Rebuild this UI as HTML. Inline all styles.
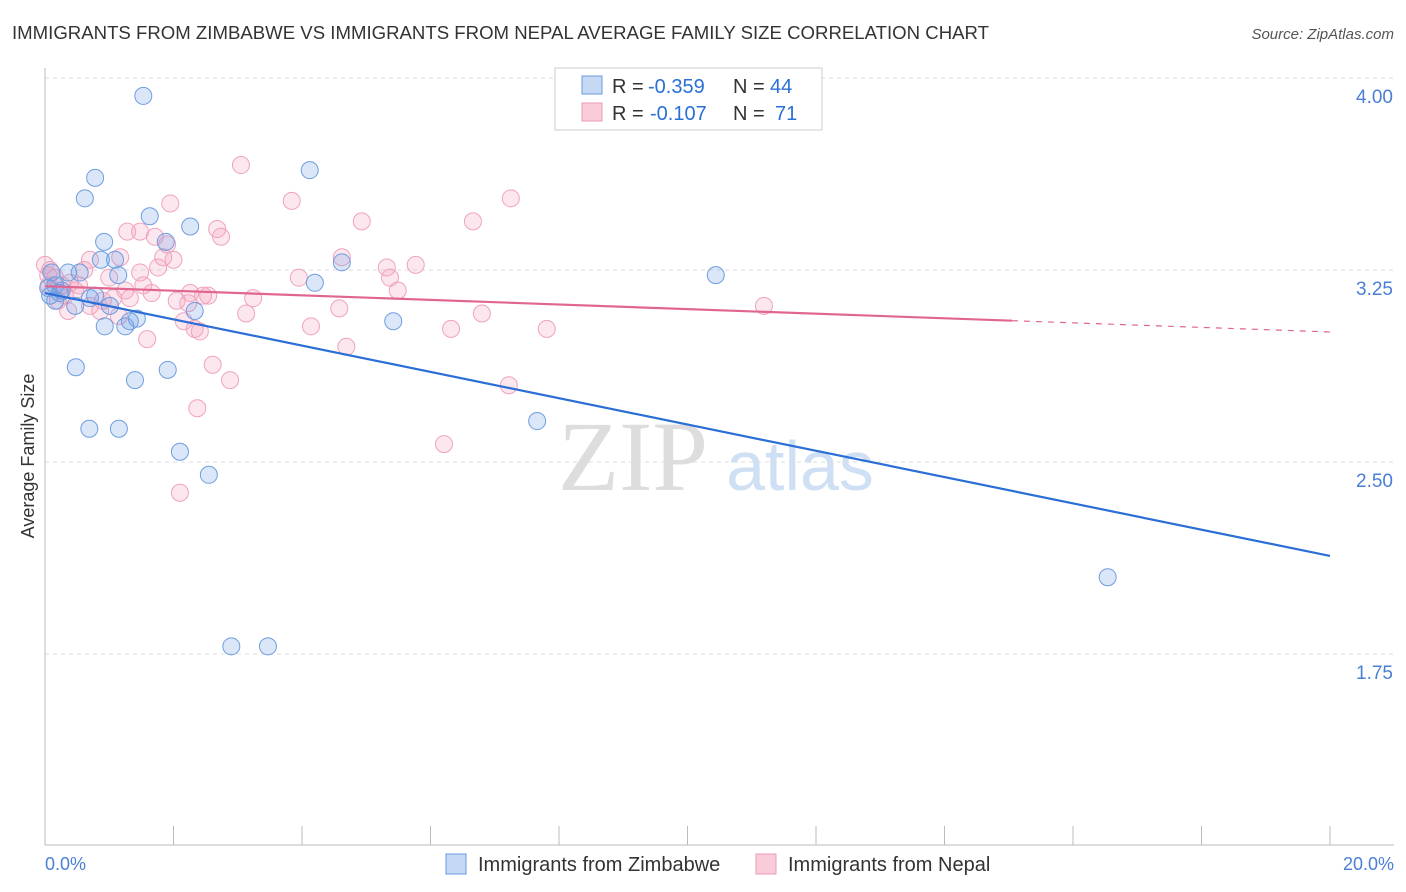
<!DOCTYPE html>
<html><head><meta charset="utf-8"><style>
body{margin:0;background:#fff;font-family:"Liberation Sans",sans-serif;}
svg{display:block}
</style></head><body>
<svg id="c" width="1406" height="892" xmlns="http://www.w3.org/2000/svg">
<text x="12" y="39" font-size="18" fill="#333" textLength="977" lengthAdjust="spacingAndGlyphs">IMMIGRANTS FROM ZIMBABWE VS IMMIGRANTS FROM NEPAL AVERAGE FAMILY SIZE CORRELATION CHART</text>
<text x="1394" y="39" font-size="15" fill="#555" text-anchor="end" font-style="italic">Source: ZipAtlas.com</text>
<text x="633" y="490" font-size="100" fill="#ddd" font-family="Liberation Serif,serif" text-anchor="middle">ZIP</text>
<text x="800" y="490" font-size="70" fill="#cfe0f5" text-anchor="middle">atlas</text>
<g id="grid"></g><g id="pts"></g><g id="lines"></g>
<text transform="translate(34,456) rotate(-90)" font-size="18" fill="#333" text-anchor="middle">Average Family Size</text>
<text x="45" y="870" font-size="18" fill="#4a7fd6">0.0%</text>
<text x="1394" y="870" font-size="18" fill="#4a7fd6" text-anchor="end">20.0%</text>
<g>
<rect x="555" y="68" width="267" height="62" fill="#fff" stroke="#ccc"/>
<rect x="582" y="76" width="20" height="18" fill="#c5d9f5" stroke="#6a9be0"/>
<rect x="582" y="103" width="20" height="18" fill="#f9ccd9" stroke="#ee9bb5"/>
<text x="612" y="93" font-size="20" fill="#333">R =</text>
<text x="648" y="93" font-size="20" fill="#2b6fd6">-0.359</text>
<text x="733" y="93" font-size="20" fill="#333">N =</text>
<text x="770" y="93" font-size="20" fill="#2b6fd6">44</text>
<text x="612" y="120" font-size="20" fill="#333">R =</text>
<text x="650" y="120" font-size="20" fill="#2b6fd6">-0.107</text>
<text x="733" y="120" font-size="20" fill="#333">N =</text>
<text x="775" y="120" font-size="20" fill="#2b6fd6">71</text>
</g>
<g>
<rect x="446" y="854" width="20" height="20" fill="#c5d9f5" stroke="#6a9be0"/>
<text x="478" y="871" font-size="20" fill="#333">Immigrants from Zimbabwe</text>
<rect x="756" y="854" width="20" height="20" fill="#f9ccd9" stroke="#ee9bb5"/>
<text x="788" y="871" font-size="20" fill="#333">Immigrants from Nepal</text>
</g>
</svg>
<script>
const yTicks=[4.00,3.25,2.50,1.75];
const yTickLabels=["4.00","3.25","2.50","1.75"];
const xTicks=[0,2,4,6,8,10,12,14,16,18,20];
const blueX=[1.53,0.78,0.62,4.12,1.63,2.26,0.92,1.88,0.87,1.09,4.62,10.44,1.14,0.54,0.36,4.2,0.16,0.26,0.08,0.16,0.47,0.78,1.01,2.33,1.43,0.93,1.25,1.32,5.42,0.48,1.4,1.91,0.69,1.15,7.66,2.1,2.55,16.54,2.9,3.47,0.05,0.7,0.23,0.1];
const blueY=[3.93,3.61,3.53,3.64,3.46,3.42,3.36,3.36,3.29,3.29,3.28,3.23,3.23,3.24,3.24,3.20,3.19,3.17,3.15,3.13,3.11,3.15,3.11,3.09,3.06,3.03,3.03,3.05,3.05,2.87,2.82,2.86,2.63,2.63,2.66,2.54,2.45,2.05,1.78,1.78,3.18,3.14,3.16,3.24];
const pinkX=[3.05,1.95,3.84,7.25,6.66,4.93,2.68,1.28,1.48,1.71,2.74,1.9,1.17,1.84,2.0,0.7,4.62,5.77,5.32,1.76,1.48,0.61,0.08,0.05,3.95,5.37,1.0,0.39,0.53,0.26,5.49,1.66,2.26,2.46,2.54,1.32,3.24,1.06,2.05,2.23,4.58,6.8,11.19,3.13,0.86,1.15,2.16,4.14,6.32,7.81,2.33,1.59,4.69,2.61,2.88,7.22,2.37,6.21,2.1,0.16,0.31,0.2,0.47,0.7,0.9,0.0,0.36,1.53,1.25,2.41,0.06];
const pinkY=[3.66,3.51,3.52,3.53,3.44,3.44,3.41,3.40,3.40,3.38,3.38,3.35,3.30,3.30,3.29,3.29,3.30,3.27,3.26,3.26,3.24,3.25,3.25,3.23,3.22,3.22,3.22,3.20,3.19,3.19,3.17,3.16,3.16,3.15,3.15,3.14,3.14,3.14,3.13,3.12,3.10,3.08,3.11,3.08,3.09,3.07,3.05,3.03,3.02,3.02,3.02,2.98,2.95,2.88,2.82,2.80,2.71,2.57,2.38,3.22,3.15,3.13,3.17,3.11,3.13,3.27,3.09,3.19,3.17,3.01,3.19];
const blueTrend=[[0,3.16],[20,2.133]];
const pinkTrend=[[0,3.187],[15.05,3.052],[20,3.008]];
const NS="http://www.w3.org/2000/svg";
const sx=v=>45+v/20*1285, sy=v=>78+(4-v)*256;
function mk(tag,a,p){const e=document.createElementNS(NS,tag);for(const k in a)e.setAttribute(k,a[k]);p.appendChild(e);return e;}
const g=document.getElementById('grid');
yTicks.forEach((t,i)=>{
 const l=mk('line',{x1:45,x2:1394,y1:sy(t),y2:sy(t),stroke:'#ddd','stroke-dasharray':'4,4'},g);
 
 
 const tx=mk('text',{x:1393,y:sy(t)+25,'font-size':19,fill:'#4a7fd6','text-anchor':'end'},g);
 tx.textContent=yTickLabels[i];
 
 
});
const ax=mk('line',{x1:45,x2:45,y1:68,y2:845,stroke:'#bbb'},g);


const bx=mk('line',{x1:45,x2:1394,y1:845,y2:845,stroke:'#bbb'},g);


xTicks.forEach(t=>{
 const l=mk('line',{x1:sx(t),x2:sx(t),y1:826,y2:845,stroke:'#bbb'},g);
 
 
});
const p=document.getElementById('pts');
pinkX.forEach((x,i)=>{
 const c=mk('circle',{cx:sx(x),cy:sy(pinkY[i]),r:8.5,fill:'rgba(244,160,188,0.25)',stroke:'#f0a3bc','stroke-width':1},p);
 
 
});
blueX.forEach((x,i)=>{
 const c=mk('circle',{cx:sx(x),cy:sy(blueY[i]),r:8.5,fill:'rgba(110,160,230,0.25)',stroke:'#6e9de0','stroke-width':1},p);
 
 
});
const L=document.getElementById('lines');
const b=mk('line',{x1:sx(blueTrend[0][0]),y1:sy(blueTrend[0][1]),x2:sx(blueTrend[1][0]),y2:sy(blueTrend[1][1]),stroke:'#2b6fd6','stroke-width':2.2},L);


const pk=mk('line',{x1:sx(pinkTrend[0][0]),y1:sy(pinkTrend[0][1]),x2:sx(pinkTrend[1][0]),y2:sy(pinkTrend[1][1]),stroke:'#e06690','stroke-width':2.2},L);


const pd=mk('line',{x1:sx(pinkTrend[1][0]),y1:sy(pinkTrend[1][1]),x2:sx(pinkTrend[2][0]),y2:sy(pinkTrend[2][1]),stroke:'#e06690','stroke-width':1.2,'stroke-dasharray':'6,6'},L);


</script>
</body></html>
